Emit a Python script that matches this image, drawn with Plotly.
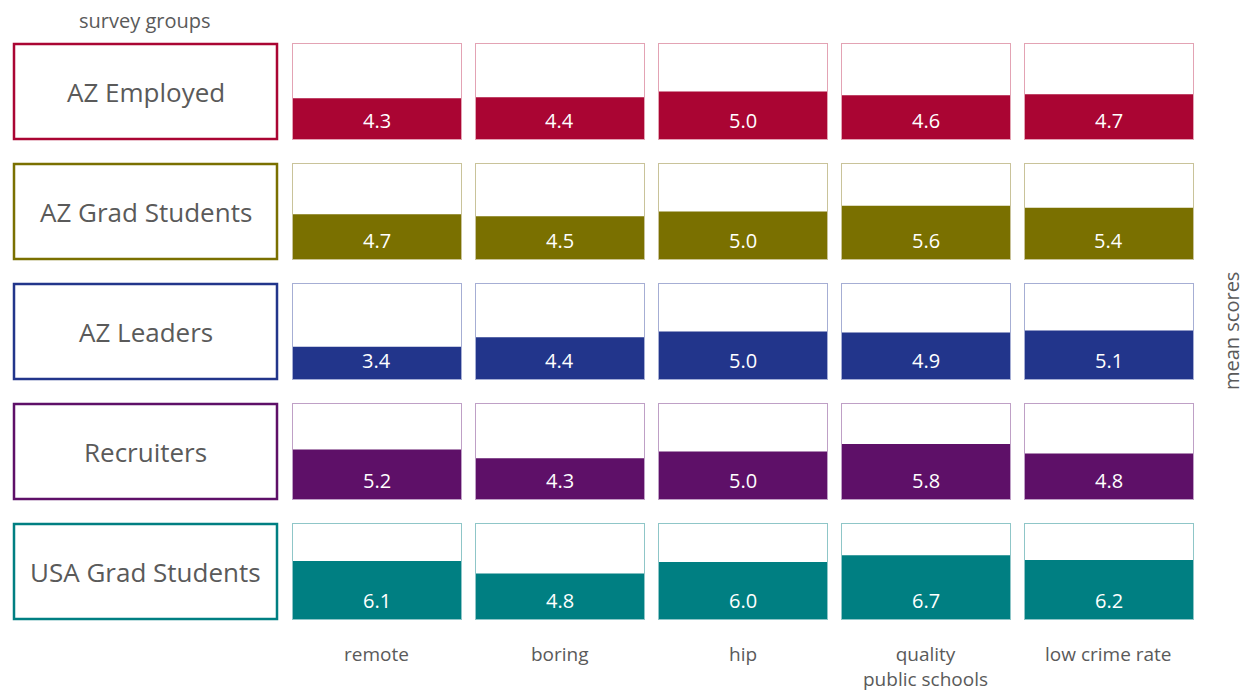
import plotly.graph_objects as go

groups = ["AZ Employed", "AZ Grad Students", "AZ Leaders", "Recruiters", "USA Grad Students"]
attributes = ["remote", "boring", "hip", "quality<br>public schools", "low crime rate"]
colors = ["#AA0533", "#7A7000", "#22358B", "#5E1068", "#007F82"]
border_colors = ["#E3A3B4", "#C9C39A", "#A6AED4", "#BFA0C6", "#8FC6C8"]
values = [
    [4.3, 4.4, 5.0, 4.6, 4.7],
    [4.7, 4.5, 5.0, 5.6, 5.4],
    [3.4, 4.4, 5.0, 4.9, 5.1],
    [5.2, 4.3, 5.0, 5.8, 4.8],
    [6.1, 4.8, 6.0, 6.7, 6.2],
]
scale_max = 10

OFF = 8  # page body margin
W, H = 1253 - OFF, 692 - OFF
FONT = "Open Sans"
GRAY = "#5a5a5a"

def px(x):
    return (x - OFF) / W

def py(y):
    return 1 - (y - OFF) / H

fig = go.Figure()
layout = dict(
    width=W, height=H,
    margin=dict(l=0, r=0, t=0, b=0),
    paper_bgcolor="white", plot_bgcolor="white",
    showlegend=False,
    font=dict(family=FONT, color=GRAY),
)
annotations = []
shapes = []

for r, g in enumerate(groups):
    y0 = 44 + 120 * r
    y1 = y0 + 95
    shapes.append(dict(type="rect", xref="paper", yref="paper",
                       x0=px(14), x1=px(277), y0=py(y1), y1=py(y0),
                       line=dict(color=colors[r], width=2.5), fillcolor="rgba(0,0,0,0)"))
    annotations.append(dict(text=g, xref="paper", yref="paper", x=px(145.5), y=py((y0 + y1) / 2),
                            showarrow=False, xanchor="center", yanchor="middle",
                            font=dict(size=26, color=GRAY, family=FONT)))
    for c, a in enumerate(attributes):
        idx = r * 5 + c + 1
        xn = "x" if idx == 1 else f"x{idx}"
        yn = "y" if idx == 1 else f"y{idx}"
        x0 = 292.5 + 183 * c
        x1 = x0 + 168.5
        fig.add_trace(go.Bar(x=[0], y=[values[r][c]], width=[1],
                             marker=dict(color=colors[r], line=dict(width=0)),
                             xaxis=xn, yaxis=yn, hoverinfo="skip"))
        layout["xaxis" if idx == 1 else f"xaxis{idx}"] = dict(
            domain=[px(x0), px(x1)], range=[-0.5, 0.5], anchor=yn,
            showline=True, mirror=True, linecolor=border_colors[r], linewidth=1,
            showgrid=False, zeroline=False, showticklabels=False, ticks="", fixedrange=True)
        layout["yaxis" if idx == 1 else f"yaxis{idx}"] = dict(
            domain=[py(y1), py(y0)], range=[0, scale_max], anchor=xn,
            showline=True, mirror=True, linecolor=border_colors[r], linewidth=1,
            showgrid=False, zeroline=False, showticklabels=False, ticks="", fixedrange=True)
        annotations.append(dict(text=f"{values[r][c]:.1f}", xref=xn, yref=yn, x=0, y=0,
                                yanchor="bottom", xanchor="center", yshift=3, showarrow=False,
                                font=dict(size=20, color="white", family=FONT)))

for c, a in enumerate(attributes):
    x0 = 292 + 183 * c
    annotations.append(dict(text=a, xref="paper", yref="paper", x=px(x0 + 84.5), y=py(640),
                            xanchor="center", yanchor="top", showarrow=False, borderpad=0,
                            font=dict(size=19, color=GRAY, family=FONT)))

annotations.append(dict(text="survey groups", xref="paper", yref="paper", x=px(145), y=py(20),
                        xanchor="center", yanchor="middle", showarrow=False,
                        font=dict(size=20, color=GRAY, family=FONT)))
annotations.append(dict(text="mean scores", xref="paper", yref="paper", x=px(1231), y=py(331),
                        xanchor="center", yanchor="middle", showarrow=False, textangle=-90,
                        font=dict(size=20, color=GRAY, family=FONT)))

layout["annotations"] = annotations
layout["shapes"] = shapes
fig.update_layout(**layout)
fig.write_html("out.html")
